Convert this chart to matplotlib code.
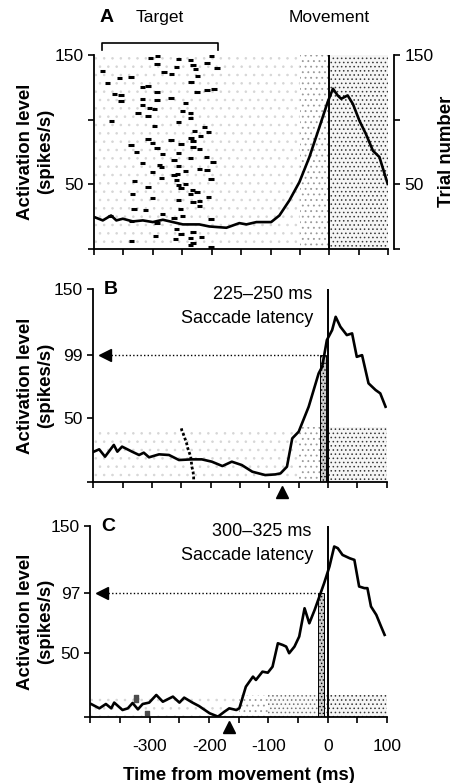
import matplotlib
matplotlib.use("Agg")
import matplotlib.pyplot as plt

plt.rcParams["font.family"] = ["Liberation Sans", "DejaVu Sans"]
plt.rcParams["hatch.linewidth"] = 0.6
plt.rcParams["axes.linewidth"] = 1.3

# ---- values ----
# x = time from movement (ms), y = activation level (spikes/s)
a_time = [-399, -385, -371, -362, -351, -334, -317, -300, -283, -266, -249, -221, -204,
          -175, -153, -141, -124, -99, -85, -68, -51, -34, -17, -3, 6, 14, 20, 31, 40,
          51, 62, 74, 85, 99]
a_rate = [24.3, 21.8, 25.6, 21.8, 23.1, 21.0, 21.8, 20.5, 22.3, 20.5, 18.7, 18.7, 17.1,
          16.1, 19.7, 18.7, 20.5, 20.5, 25.6, 37.3, 51.5, 70.9, 94.1, 113.5, 123.9, 118.7,
          116.1, 118.7, 112.0, 99.1, 88.8, 75.8, 70.9, 50.1]

b_time = [-399, -390, -380, -365, -359, -351, -334, -322, -314, -305, -288, -271, -254,
          -232, -215, -198, -180, -164, -147, -129, -107, -90, -81, -70, -61, -50, -33,
          -16, -10, -7, -2, 7, 13, 21, 32, 41, 49, 58, 69, 81, 89, 98]
b_rate = [23.6, 25.4, 19.7, 28.8, 23.6, 27.5, 23.6, 21.0, 22.8, 19.2, 21.5, 21.0, 17.1,
          17.6, 17.6, 15.8, 12.4, 15.8, 13.2, 8.0, 5.4, 5.9, 6.7, 11.9, 33.9, 39.1, 58.5,
          84.4, 89.6, 97.3, 110.3, 118.1, 128.4, 120.7, 114.2, 115.5, 97.3, 98.6, 76.7,
          71.5, 68.9, 58.5]

c_time = [-399, -385, -374, -365, -360, -346, -337, -329, -320, -312, -301, -289, -278,
          -261, -250, -242, -228, -217, -199, -185, -174, -166, -154, -149, -138, -126,
          -121, -110, -101, -93, -84, -76, -70, -65, -56, -48, -39, -31, -22, -14, -6, 3,
          11, 17, 25, 37, 45, 53, 62, 67, 73, 82, 90, 96]
c_rate = [10.2, 6.8, 10.2, 6.8, 11.3, 5.5, 6.8, 11.0, 6.0, 10.2, 11.3, 17.3, 12.0, 16.0,
          11.3, 15.2, 11.3, 8.6, 2.9, 0.3, 4.2, 6.8, 5.5, 6.8, 23.8, 31.7, 29.1, 35.6, 34.8,
          39.5, 57.9, 56.6, 55.3, 50.1, 55.3, 63.2, 85.4, 73.6, 84.1, 94.6, 105.1, 118.2,
          133.9, 132.6, 127.3, 124.7, 123.4, 102.5, 101.2, 101.2, 86.8, 80.2, 71.1, 64.5]

# target onset marks in the raster of panel A (time, trial)
target_a_time = [-304, -292, -256, -236, -200, -293, -260, -232, -208, -191,
                 -385, -281, -268, -228, -224, -377, -357, -337, -235, -317,
                 -308, -293, -225, -208, -196, -365, -354, -269, -317, -293,
                 -354, -245, -317, -306, -297, -249, -236, -325, -308, -370,
                 -236, -256, -212, -297, -229, -205, -219, -308, -269, -235,
                 -300, -252, -232, -337, -293, -232, -221,
                 -328, -284, -256, -209, -317, -289, -264, -236, -198, -285,
                 -256, -221, -208, -300, -245, -264, -285, -258, -201, -331,
                 -260, -245, -308, -256, -252, -233, -225, -334, -236, -205,
                 -300, -256, -232, -221, -221, -332, -313, -284, -253, -249,
                 -264, -201, -372, -336, -293, -260, -232, -252, -296, -236,
                 -217, -262, -336, -232, -236, -201]
target_a_trial = [148, 149, 147, 146, 149, 143, 141, 142, 144, 140,
                  138, 137, 135, 139, 134, 128, 132, 133, 129, 125,
                  126, 121, 121, 123, 124, 120, 119, 117, 116, 115,
                  114, 113, 111, 109, 108, 107, 105, 105, 103, 99,
                  101, 98, 94, 95, 91, 90, 87, 85, 84, 86,
                  82, 81, 83, 80, 78, 79, 77,
                  75, 73, 74, 71, 66, 65, 69, 70, 67, 63,
                  64, 62, 61, 59, 60, 57, 55, 58, 54, 52,
                  53, 50, 48, 49, 47, 45, 44, 42, 42, 40,
                  39, 38, 36, 37, 33, 31, 30, 27, 31, 25,
                  24, 23, 25, 21, 20, 15, 13, 11, 10, 8,
                  9, 7, 6, 4, 3, 1]

# slanted column of target marks in panel B, and the few in panel C
target_b_time = [-250, -249, -247, -244, -241, -239, -236, -234, -233, -232, -230, -229, -229]
target_b_trial = [41.7, 39.9, 37.8, 34.0, 30.1, 26.2, 22.3, 19.7, 15.8, 11.9, 8.0, 4.1, 1.6]
target_c_time = [-324, -323, -305]
target_c_trial = [15.5, 13.0, 3.4]

# spike raster density per 50 ms bin (1 = sparse ... 4 = dense)
raster_left = [-400, -350, -300, -250, -200, -150, -100, -50, 0, 50]
raster_a = [1, 1, 1, 1, 1, 1, 1, 2, 4, 4]
raster_b = [1, 1, 1, 1, 1, 1, 1, 2, 4, 4]
raster_c = [1, 1, 1, 1, 1, 2, 3, 3, 4, 4]
raster_top = {"A": 150, "B": 43, "C": 17}

# value at saccade onset (dotted arrow) and the window bar
b_level, b_bar = 99, (-14, -4)
c_level, c_bar = 97, (-17, -6)
b_triangle, c_triangle = -78, -167

x_ticks = [-400, -350, -300, -250, -200, -150, -100, -50, 0, 50, 100]
x_labels = ["", "", "-300", "", "-200", "", "-100", "", "0", "", "100"]

raster_styles = {1: ("white", "..", "0.84"),
                 2: ("white", "...", "0.6"),
                 3: ("0.98", "....", "0.45"),
                 4: ("0.96", "....", "0.22")}


def draw_raster(ax, levels, top):
    for left, lev in zip(raster_left, levels):
        face, hatch, col = raster_styles[lev]
        ax.bar(left, top, width=50, align="edge", color=face, hatch=hatch,
               edgecolor=col, linewidth=0, zorder=1)


def style(ax, yticks, ylabels, show_x):
    ax.set_xlim(-400, 100)
    ax.set_ylim(0, 150)
    ax.spines["top"].set_visible(False)
    ax.spines["right"].set_visible(False)
    ax.set_xticks(x_ticks)
    ax.set_xticklabels(x_labels if show_x else [""] * len(x_ticks))
    ax.set_yticks(yticks)
    ax.set_yticklabels(ylabels)
    ax.tick_params(direction="out", length=4, width=1.2, labelsize=12.5)
    ax.tick_params(axis="x", pad=12)
    ax.set_ylabel("Activation level\n(spikes/s)", fontsize=13.4, fontweight="bold")
    pos = ax.get_position()
    ax.yaxis.set_label_coords((54 / 454 - pos.x0) / pos.width, 0.5)


def saccade_window(ax, level, bar, tri, bar_label):
    ax.bar(bar[0], level, width=bar[1] - bar[0], align="edge", color="0.8",
           hatch=".....", edgecolor="k", linewidth=0.7, zorder=2)
    ax.plot([-370, bar[0]], [level, level], color="k", lw=1.0, ls=(0, (1, 1.6)), zorder=3)
    ax.plot(-380, level, marker="<", ms=8, color="k", clip_on=False, zorder=4)
    ax.plot(tri, -8, marker="^", ms=8, color="k", clip_on=False, zorder=4)
    ax.text(-27, 146, bar_label, ha="right", va="center", fontsize=13)
    ax.text(-25, 127, "Saccade latency", ha="right", va="center", fontsize=13)


fig = plt.figure(figsize=(4.54, 7.83), dpi=100)
ax_a = fig.add_axes([0.2070, 0.6826, 0.6482, 0.2471])
ax_b = fig.add_axes([0.2055, 0.3844, 0.6463, 0.2465])
ax_c = fig.add_axes([0.1993, 0.0843, 0.6531, 0.2439])

# Panel A
draw_raster(ax_a, raster_a, raster_top["A"])
ax_a.hlines(target_a_trial, [t - 4.5 for t in target_a_time], [t + 4.5 for t in target_a_time],
            color="k", lw=2.2, zorder=2)
ax_a.plot(a_time, a_rate, color="k", lw=1.9, zorder=3)
ax_a.axvline(0, color="k", lw=1.4, zorder=3)
style(ax_a, [0, 50, 100, 150], ["", "50", "", "150"], False)
ax_r = ax_a.twinx()
ax_r.set_ylim(0, 150)
for s in ["top", "left", "bottom"]:
    ax_r.spines[s].set_visible(False)
ax_r.spines["right"].set_position(("outward", 4))
ax_r.set_yticks([0, 50, 100, 150])
ax_r.set_yticklabels(["", "50", "", "150"])
ax_r.tick_params(direction="out", length=4, width=1.2, labelsize=12.5)
ax_r.set_ylabel("Trial number", fontsize=13.4, fontweight="bold")
ax_r.yaxis.set_label_coords(1.17, 0.5)
ax_a.plot([-387, -387, -190, -190], [154, 159, 159, 154], color="k", lw=1.2, clip_on=False)
ax_a.text(-391, 179, "A", ha="left", va="center", fontsize=14, fontweight="bold")
ax_a.text(-288, 179, "Target", ha="center", va="center", fontsize=12.5)
ax_a.text(0, 179, "Movement", ha="center", va="center", fontsize=12.5)

# Panel B
draw_raster(ax_b, raster_b, raster_top["B"])
ax_b.plot(target_b_time, target_b_trial, color="k", lw=2, ls=(0, (1, 0.8)), zorder=2)
ax_b.plot(b_time, b_rate, color="k", lw=1.9, zorder=3)
ax_b.axvline(0, color="k", lw=1.4, zorder=3)
style(ax_b, [0, 50, b_level, 150], ["", "50", str(b_level), "150"], False)
saccade_window(ax_b, b_level, b_bar, b_triangle, "225\u2013250 ms")
ax_b.text(-382, 150, "B", ha="left", va="center", fontsize=14, fontweight="bold")

# Panel C
draw_raster(ax_c, raster_c, raster_top["C"])
ax_c.scatter(target_c_time, target_c_trial, marker="s", s=6, color="0.3", zorder=2)
ax_c.plot(c_time, c_rate, color="k", lw=1.9, zorder=3)
ax_c.axvline(0, color="k", lw=1.4, zorder=3)
style(ax_c, [0, 50, c_level, 150], ["", "50", str(c_level), "150"], True)
saccade_window(ax_c, c_level, c_bar, c_triangle, "300\u2013325 ms")
ax_c.text(-382, 150, "C", ha="left", va="center", fontsize=14, fontweight="bold")
ax_c.set_xlabel("Time from movement (ms)", fontsize=13.4, fontweight="bold", labelpad=9)

fig.savefig("out.png", dpi=100)
